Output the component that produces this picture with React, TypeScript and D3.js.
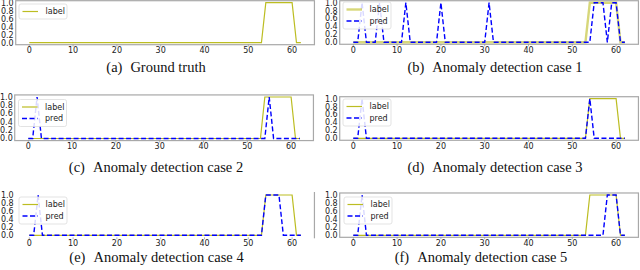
import React from "react";
import * as d3 from "d3";

const xs: number[] = d3.range(0, 63);
const xTicks = [0, 10, 20, 30, 40, 50, 60];
const yTicks = [0, 0.2, 0.4, 0.6, 0.8, 1.0];

// indices where series equal 1 (all other points are 0)
const labelOnes = [54, 55, 56, 57, 58, 59, 60];
const predOnesB = [2, 6, 12, 20, 31, 55, 56, 57, 59, 60];
const predOnesC = [2, 55];
const predOnesD = [2, 54];
const predOnesE = [2, 54, 55, 56, 57];
const predOnesF = [2, 58, 59, 60];

const tags = ["(a)", "(b)", "(c)", "(d)", "(e)", "(f)"];
const titles = [
  "Ground truth",
  "Anomaly detection case 1",
  "Anomaly detection case 2",
  "Anomaly detection case 3",
  "Anomaly detection case 4",
  "Anomaly detection case 5",
];
const predSets: (number[] | null)[] = [null, predOnesB, predOnesC, predOnesD, predOnesE, predOnesF];

const toSeries = (ones: number[]) => xs.map((x) => (ones.includes(x) ? 1 : 0));

// layout (pixel positions of x=0, y=1, y=0 per panel)
const layouts = [
  { x0: 29.3, y1: 2.7, y0: 42.7, lx: 19, ly: 4, cx: 156, cy: 71.5, frame: "full", thick: false },
  { x0: 353.3, y1: 2.7, y0: 42.3, lx: 343, ly: 2, cx: 495, cy: 71.5, frame: "full", thick: true },
  { x0: 28.3, y1: 97, y0: 138.5, lx: 18.5, ly: 99.5, cx: 156, cy: 171.5, frame: "full", thick: false },
  { x0: 353.3, y1: 98.7, y0: 138.3, lx: 343, ly: 99, cx: 495, cy: 171.5, frame: "full", thick: false },
  { x0: 29.3, y1: 195, y0: 235.3, lx: 19, ly: 197, cx: 156.5, cy: 261.5, frame: "right", thick: false },
  { x0: 353.3, y1: 195, y0: 235.3, lx: 344, ly: 197, cx: 481, cy: 261.5, frame: "full", thick: false },
];

const PX = 4.38;
const OLIVE = "#bcbd22";
const BLUE = "#0000ff";
const SANS = "DejaVu Sans, sans-serif";
const SERIF = "Liberation Serif, Times New Roman, serif";

function Panel({ i }: { i: number }) {
  const L = layouts[i];
  const x = d3.scaleLinear().domain([0, 60]).range([L.x0, L.x0 + 60 * PX]);
  const y = d3.scaleLinear().domain([0, 1]).range([L.y0, L.y1]);
  const left = x(-3.1), right = x(65.1), top = y(1.05), bottom = y(-0.05);
  const line = d3.line<number>().x((_, j) => x(xs[j])).y((d) => y(d));
  const label = toSeries(labelOnes);
  const predOnes = predSets[i];
  const pred = predOnes ? toSeries(predOnes) : null;
  const fc = "#a8a8a8";
  const entries = pred ? 2 : 1;
  const lh = 11.5;
  return (
    <g>
      {L.frame === "full" ? (
        <rect x={left} y={top} width={right - left} height={bottom - top} fill="white" stroke={fc} strokeWidth={1.2} />
      ) : (
        <line x1={right} x2={right} y1={top - 1} y2={bottom + 1} stroke={fc} strokeWidth={1.2} />
      )}
      {yTicks.map((t) => (
        <text key={t} x={left - 2} y={y(t)} dy="0.36em" textAnchor="end" fontSize={8} fontFamily={SANS} fill="#222">
          {t.toFixed(1)}
        </text>
      ))}
      {xTicks.map((t) => (
        <g key={t}>
          <line x1={x(t)} x2={x(t)} y1={bottom} y2={bottom + 2} stroke="#888" strokeWidth={0.6} />
          <text x={x(t)} y={bottom + 8.3} textAnchor="middle" fontSize={8} fontFamily={SANS} fill="#222">
            {t}
          </text>
        </g>
      ))}
      <path
        d={line(label) || ""}
        fill="none"
        stroke={OLIVE}
        strokeWidth={L.thick ? 2.4 : 1.2}
        strokeOpacity={L.thick ? 0.6 : 1}
      />
      {pred && (
        <path d={line(pred) || ""} fill="none" stroke={BLUE} strokeWidth={1.4} strokeDasharray="5,2.5" />
      )}
      <rect
        x={L.lx}
        y={L.ly}
        width={48}
        height={entries === 2 ? 27 : 15}
        rx={2}
        fill="white"
        fillOpacity={0.85}
        stroke="#dcdcdc"
        strokeWidth={0.8}
      />
      <line
        x1={L.lx + 3.5}
        x2={L.lx + 19}
        y1={L.ly + 7.5}
        y2={L.ly + 7.5}
        stroke={OLIVE}
        strokeWidth={L.thick ? 2.4 : 1.2}
        strokeOpacity={L.thick ? 0.6 : 1}
      />
      <text x={L.lx + 26.5} y={L.ly + 7.5} dy="0.36em" fontSize={8} fontFamily={SANS} fill="#222">
        label
      </text>
      {pred && (
        <>
          <line
            x1={L.lx + 3.5}
            x2={L.lx + 19}
            y1={L.ly + 7.5 + lh}
            y2={L.ly + 7.5 + lh}
            stroke={BLUE}
            strokeWidth={1.4}
            strokeDasharray="5,2.5"
          />
          <text x={L.lx + 26.5} y={L.ly + 7.5 + lh} dy="0.36em" fontSize={8} fontFamily={SANS} fill="#222">
            pred
          </text>
        </>
      )}
      <text x={L.cx} y={L.cy} textAnchor="middle" fontSize={14.5} fontFamily={SERIF} fill="#111">
        <tspan>{tags[i]}</tspan>
        <tspan dx={8}>{titles[i]}</tspan>
      </text>
    </g>
  );
}

export default function App() {
  return (
    <svg
      width={640}
      height={270}
      style={{ position: "absolute", left: 0, top: 0, background: "white" }}
    >
      <rect x={0} y={0} width={640} height={270} fill="white" />
      {layouts.map((_, i) => (
        <Panel key={i} i={i} />
      ))}
    </svg>
  );
}
